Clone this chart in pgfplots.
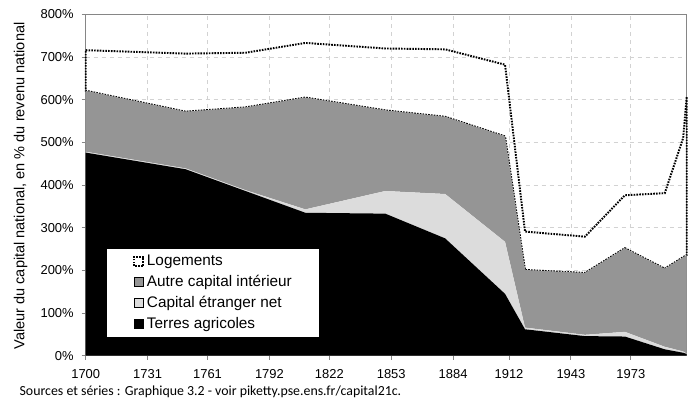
\documentclass[border=0pt]{standalone}
\usepackage{fontspec}
\setmainfont{Liberation Sans}
\newfontfamily\calibri{Carlito}
\usepackage{pgfplots}
\pgfplotsset{compat=1.18}
\definecolor{autregray}{HTML}{959595}
\definecolor{etrgray}{HTML}{DCDCDC}
\definecolor{gridgray}{HTML}{D2D2D2}
\definecolor{axisgray}{HTML}{868686}
\tikzset{dotline/.style={draw=black, line width=1.45pt, dash pattern=on 1.2pt off 0.9pt}}
\begin{document}
\begin{tikzpicture}
\path[use as bounding box] (0,0) rectangle (521.25pt,300pt);
\begin{axis}[
  at={(64.3pt,33.2pt)}, anchor=south west,
  scale only axis, width=450.75pt, height=256.05pt,
  xmin=1700, xmax=2001, ymin=0, ymax=800,
  xtick={1700,1731,1761,1792,1822,1853,1884,1912,1943,1973},
  xticklabels={1700,1731,1761,1792,1822,1853,1884,1912,1943,1973},
  ytick={0,100,200,300,400,500,600,700,800},
  yticklabels={0\%,100\%,200\%,300\%,400\%,500\%,600\%,700\%,800\%},
  tick label style={font=\fontsize{9.7}{11}\selectfont},
  xticklabel style={yshift=-4pt},
  yticklabel style={xshift=-2.5pt},
  /pgf/number format/assume math mode=true,
  xtick pos=bottom, ytick pos=left,
  tick align=outside, major tick length=3pt,
  tick style={axisgray, line width=0.7pt},
  axis line style={axisgray, line width=0.8pt},
  grid=major,
  major grid style={gridgray, dashed, line width=0.6pt},
  clip=false,
  stack plots=y,
  reverse legend,
  legend cell align=left,
  legend image code/.code={\path (-15.7pt,0pt); \draw[#1] (0pt,-3.4pt) rectangle (6.8pt,3.4pt);},
  legend style={at={(0.035,0.3146)}, anchor=north west, draw=none, fill=white,
    font=\fontsize{11.5}{13}\selectfont, row sep=1.8pt, inner xsep=4pt, inner ysep=3pt},
]
% Terres agricoles
\addplot[fill=black, draw=none] coordinates {
 (1700,476) (1750,437) (1780,386) (1810,335) (1850,333) (1880,275) (1910,145)
 (1920,62) (1950,46) (1970,45) (1990,15) (1999.2,7) (2001,4)} \closedcycle;
\addlegendentry{Terres agricoles}
% Capital etranger net
\addplot[fill=etrgray, draw=none] coordinates {
 (1700,2) (1750,2) (1780,2) (1810,8) (1850,53) (1880,104) (1910,122)
 (1920,4) (1950,3) (1970,11) (1990,6) (1999.2,3) (2001,1)} \closedcycle;
\addlegendentry{Capital étranger net}
% Autre capital interieur
\addplot[fill=autregray, draw=none] coordinates {
 (1700,143) (1750,133) (1780,194) (1810,262) (1850,189) (1880,181) (1910,247)
 (1920,135) (1950,145) (1970,196) (1990,183) (1999.2,221) (2001,231)} \closedcycle;
\addlegendentry{Autre capital intérieur\hspace*{14pt}}
% Logements
\addplot[fill=none, dotline] coordinates {
 (1700,95) (1750,136) (1780,128) (1810,128) (1850,145) (1880,158) (1910,168)
 (1920,90) (1950,85) (1970,124) (1990,177) (1999.2,279) (2001,371)} \closedcycle;
\addlegendentry{Logements}
\end{axis}
\node[rotate=90, font=\fontsize{10.9}{12}\selectfont] at (15.5pt,160.5pt)
  {Valeur du capital national, en \% du revenu national};
\node[anchor=base west, inner sep=0pt, font=\calibri\fontsize{10.4}{12}\selectfont] at (14.5pt,3.4pt)
  {Sources et séries : Graphique 3.2 - voir piketty.pse.ens.fr/capital21c.};
\end{tikzpicture}
\end{document}
